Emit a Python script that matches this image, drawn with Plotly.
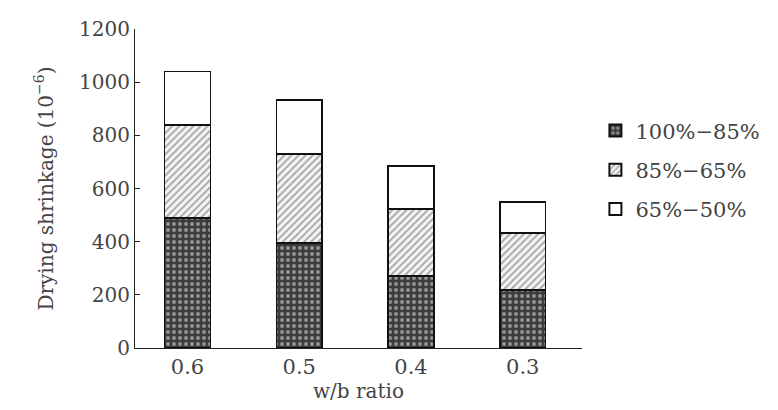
import plotly.graph_objects as go

categories = ["0.6", "0.5", "0.4", "0.3"]
s_100_85 = [489, 395, 271, 218]
s_85_65 = [349, 334, 252, 214]
s_65_50 = [202, 203, 161, 117]
names = ["100%−85%", "85%−65%", "65%−50%"]
y_ticks = [0, 200, 400, 600, 800, 1000, 1200]

FONT = "DejaVu Serif, serif"

fig = go.Figure()
fig.add_trace(go.Bar(
    x=categories, y=s_100_85, name=names[0], legendgroup="a",
    marker=dict(color="#3c3c3c", line=dict(color="#111", width=1.5),
                pattern=dict(shape=".", fgcolor="#e8e8e8", size=6, solidity=0.35)),
))
fig.add_trace(go.Bar(
    x=categories, y=s_85_65, name=names[1], legendgroup="b",
    marker=dict(color="#f4f4f4", line=dict(color="#111", width=1.5),
                pattern=dict(shape="/", fgcolor="#555", size=5, solidity=0.35)),
))
fig.add_trace(go.Bar(
    x=categories, y=s_65_50, name=names[2], legendgroup="c",
    marker=dict(color="white", line=dict(color="#111", width=1.5)),
))

fig.update_layout(
    barmode="stack",
    bargap=0.59,
    width=778, height=410,
    margin=dict(l=127, r=204, t=21, b=70),
    paper_bgcolor="white", plot_bgcolor="white",
    font=dict(family=FONT, size=18, color="#444"),
    showlegend=True,
    legend=dict(x=1.03, y=0.745, xanchor="left", yanchor="top",
                traceorder="grouped", font=dict(size=21, color="#444"),
                itemsizing="constant", tracegroupgap=9, itemwidth=30),
)
fig.update_xaxes(
    type="category", range=[-0.47, 3.53], automargin=False,
    showline=True, linecolor="#222", linewidth=1, ticks="",
    showgrid=False, zeroline=False,
    tickfont=dict(size=21, color="#444"),
    title=dict(text="w/b ratio", font=dict(size=20, color="#444"), standoff=4),
)
fig.update_yaxes(
    range=[0, 1200], tickvals=y_ticks, automargin=False,
    showline=True, linecolor="#222", linewidth=1,
    ticks="inside", ticklen=5, tickcolor="#222",
    showgrid=False, zeroline=False,
    tickfont=dict(size=20, color="#444"),
    title=dict(text="Drying shrinkage (10<sup>−6</sup>)", font=dict(size=20, color="#444"), standoff=20),
)

fig.write_html("out.html")
